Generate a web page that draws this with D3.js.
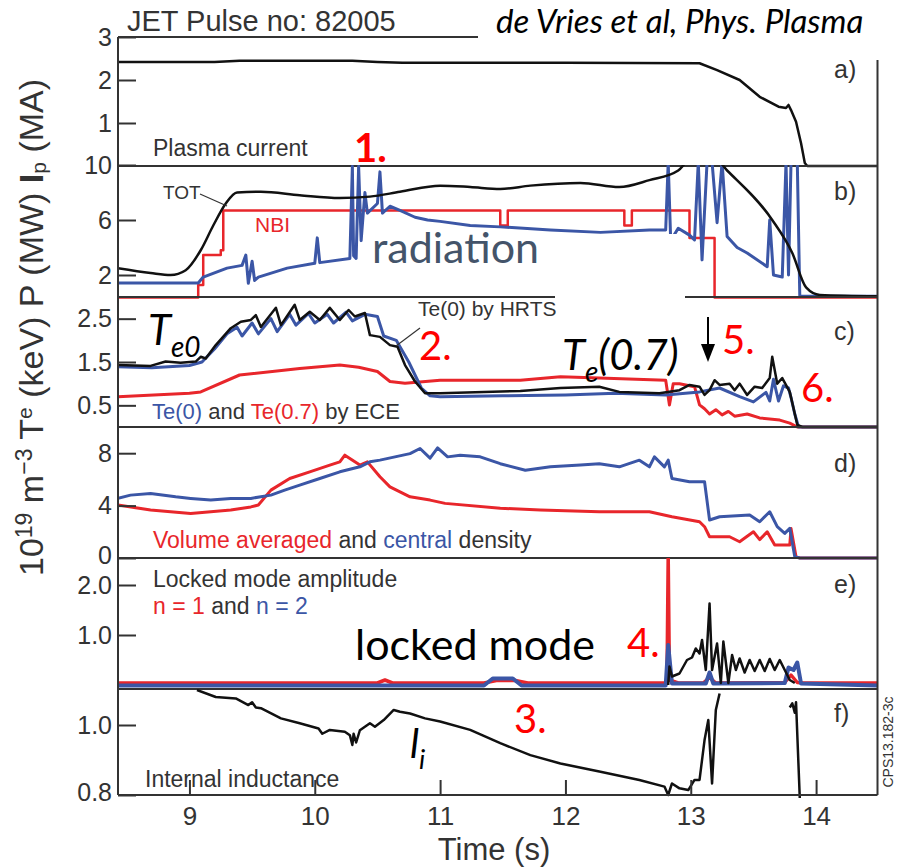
<!DOCTYPE html>
<html>
<head>
<meta charset="utf-8">
<script src="https://cdn.jsdelivr.net/npm/d3@7"></script>
<style>
body { margin: 0; background: #fff; }
svg { display: block; }
.tick text { font-family: "Liberation Sans", Arial, sans-serif; font-size: 25px; fill: #333; }
.tick line { stroke: #333; stroke-width: 2; }
.lbl { font-family: "Liberation Sans", Arial, sans-serif; fill: #333; }
.note { font-family: Lato, "Open Sans", sans-serif; }
</style>
</head>
<body>
<div id="chart"></div>
<script>
// ---- data: [time (s), value] pairs ----
var timeTicks = [9, 10, 11, 12, 13, 14];

// a) plasma current (MA)
var ipCurrent = [[8.43,2.42],[9.2,2.42],[9.4,2.45],[10.3,2.45],[10.5,2.42],[10.7,2.40],[12.0,2.40],[13.07,2.39],[13.21,2.23],[13.39,2.0],[13.55,1.61],[13.7,1.38],[13.76,1.35],[13.78,1.42],[13.8,1.30],[13.84,1.03],[13.88,0.53],[13.91,0.07],[13.93,0],[14.49,0]];

// b) powers (MW)
var totPower = [[8.43,2.5],[8.69,2.15],[8.85,2.0],[8.97,2.35],[9.09,3.8],[9.19,5.6],[9.29,7.2],[9.38,8.0],[9.57,8.05],[9.88,7.8],[10.2,7.6],[10.44,7.7],[10.68,8.05],[11.0,8.5],[11.24,8.4],[11.48,8.25],[11.72,8.5],[12.12,8.7],[12.43,8.4],[12.67,8.9],[12.9,9.6],[13.0,10.4],[13.2,10.4],[13.29,9.6],[13.65,6.0],[13.81,3.6],[13.92,1.1],[14.03,0.55],[14.49,0.45]];
var nbiPower = [[8.43,0.37],[9.07,0.37],[9.07,1.27],[9.11,1.27],[9.11,3.45],[9.25,3.45],[9.25,3.8],[9.27,3.8],[9.27,6.7],[11.48,6.7],[11.48,5.6],[11.54,5.6],[11.54,6.7],[12.47,6.7],[12.47,5.6],[12.53,5.6],[12.53,6.7],[12.99,6.7],[12.99,4.7],[13.19,4.7],[13.19,0.37],[14.49,0.37]];
var radPower = [[8.43,1.42],[9.07,1.42],[9.11,1.85],[9.3,2.5],[9.42,2.7],[9.45,3.45],[9.47,1.4],[9.5,3.0],[9.52,1.6],[9.55,1.85],[9.78,2.5],[10.0,2.85],[10.02,4.7],[10.04,2.9],[10.28,3.2],[10.3,9.9],[10.31,3.4],[10.33,3.2],[10.35,9.9],[10.37,4.5],[10.4,8.0],[10.42,6.5],[10.5,7.2],[10.52,9.5],[10.54,6.5],[10.6,7.0],[10.68,6.7],[10.8,6.2],[10.9,6.0],[11.0,5.9],[11.24,5.6],[11.48,5.5],[11.88,5.27],[12.28,5.1],[12.67,5.27],[12.8,5.27],[12.82,10.2],[12.84,4.5],[12.9,5.4],[12.99,4.9],[13.03,4.55],[13.06,10.2],[13.09,3.1],[13.13,10.2],[13.17,10.2],[13.21,5.8],[13.25,10.2],[13.29,4.8],[13.37,4.0],[13.45,3.6],[13.61,2.6],[13.63,6.0],[13.66,2.0],[13.73,1.85],[13.76,10.2],[13.78,2.0],[13.8,10.2],[13.85,10.2],[13.87,0.45],[14.49,0.45]];

// c) electron temperature (keV)
var te0Hrts = [[8.43,1.43],[8.69,1.41],[8.81,1.51],[8.93,1.48],[9.05,1.51],[9.09,1.62],[9.13,1.58],[9.21,1.89],[9.33,2.28],[9.41,2.43],[9.49,2.47],[9.53,2.58],[9.57,2.31],[9.69,2.75],[9.73,2.35],[9.84,2.82],[9.88,2.47],[9.96,2.66],[10.04,2.47],[10.12,2.75],[10.2,2.47],[10.27,2.7],[10.32,2.55],[10.4,2.63],[10.44,2.12],[10.52,2.08],[10.6,1.89],[10.66,1.85],[10.72,1.43],[10.8,1.05],[10.88,0.78],[11.0,0.78],[11.64,0.83],[11.96,0.9],[12.27,0.93],[12.43,0.81],[12.75,0.78],[12.91,0.85],[12.99,0.97],[13.07,0.93],[13.11,0.74],[13.15,0.85],[13.19,1.08],[13.23,0.97],[13.31,1.0],[13.35,0.85],[13.39,1.0],[13.45,0.74],[13.51,0.93],[13.57,0.9],[13.63,1.13],[13.65,1.62],[13.69,1.0],[13.73,1.13],[13.79,0.81],[13.85,0.05],[13.89,0],[14.49,0]];
var te0Ece = [[8.43,1.39],[8.7,1.37],[9.0,1.42],[9.1,1.5],[9.2,1.8],[9.3,2.15],[9.38,2.3],[9.42,2.1],[9.5,2.4],[9.55,2.15],[9.65,2.5],[9.7,2.2],[9.8,2.6],[9.85,2.35],[9.95,2.62],[10.0,2.4],[10.1,2.6],[10.15,2.4],[10.25,2.65],[10.3,2.45],[10.4,2.6],[10.5,2.55],[10.55,2.1],[10.65,2.0],[10.75,1.5],[10.85,0.9],[10.92,0.72],[11.0,0.7],[11.5,0.72],[12.0,0.74],[12.4,0.78],[12.8,0.74],[13.07,0.81],[13.23,0.9],[13.39,0.7],[13.5,0.58],[13.6,0.8],[13.63,0.6],[13.66,1.1],[13.7,0.6],[13.74,0.95],[13.78,0.9],[13.8,0.68],[13.83,0.3],[13.86,0],[14.49,0]];
var te07Ece = [[8.43,0.7],[9.0,0.78],[9.09,0.81],[9.4,1.2],[9.88,1.35],[10.2,1.43],[10.35,1.38],[10.5,1.28],[10.6,1.05],[10.72,1.01],[11.0,1.08],[11.64,1.08],[11.96,1.16],[12.27,1.13],[12.8,1.08],[12.83,0.51],[12.86,1.0],[12.91,1.0],[13.03,0.93],[13.07,0.51],[13.11,0.42],[13.15,0.3],[13.2,0.4],[13.25,0.28],[13.3,0.36],[13.35,0.25],[13.45,0.3],[13.55,0.21],[13.71,0.16],[13.79,0.09],[13.85,0],[14.49,0]];

// d) density (10^19 m^-3)
var neCentral = [[8.43,4.55],[8.53,4.8],[8.69,4.93],[8.89,4.67],[9.01,4.55],[9.17,4.42],[9.33,4.55],[9.49,4.55],[9.65,4.8],[9.76,5.18],[9.88,5.56],[10.04,6.07],[10.2,6.58],[10.36,6.96],[10.44,7.34],[10.52,7.47],[10.64,7.72],[10.76,7.97],[10.84,8.36],[10.92,7.62],[10.98,8.4],[11.06,7.72],[11.16,7.85],[11.32,7.72],[11.48,7.2],[11.68,6.7],[11.88,6.96],[12.12,7.09],[12.27,7.2],[12.43,6.96],[12.59,7.47],[12.67,6.96],[12.71,7.72],[12.79,6.96],[12.82,7.47],[12.85,6.07],[12.99,5.82],[13.11,5.82],[13.15,2.9],[13.23,3.15],[13.47,3.28],[13.55,2.77],[13.63,3.53],[13.69,2.39],[13.75,1.88],[13.79,2.26],[13.83,0.1],[13.87,0],[14.49,0]];
var neVolume = [[8.43,4.04],[8.69,3.66],[9.01,3.4],[9.33,3.66],[9.49,3.9],[9.55,4.04],[9.65,5.18],[9.8,6.07],[9.96,6.58],[10.12,7.09],[10.2,7.34],[10.24,7.85],[10.36,7.09],[10.42,7.34],[10.52,6.2],[10.6,5.43],[10.76,4.67],[10.92,4.42],[11.04,4.17],[11.48,3.8],[11.8,3.66],[12.27,3.53],[12.67,3.53],[12.85,3.15],[13.07,2.77],[13.11,2.39],[13.15,1.62],[13.31,1.62],[13.39,1.24],[13.5,2.0],[13.55,1.4],[13.61,2.0],[13.67,0.99],[13.79,0.99],[13.8,2.26],[13.84,0.1],[13.87,0],[14.49,0]];

// e) locked mode amplitude
var lockN1 = [[8.43,0.04],[10.5,0.04],[10.56,0.1],[10.62,0.04],[11.35,0.04],[11.45,0.09],[11.6,0.09],[11.7,0.04],[12.81,0.04],[12.82,2.6],[12.83,0.1],[12.9,0.04],[13.1,0.04],[13.15,0.15],[13.2,0.04],[13.75,0.05],[13.8,0.2],[13.85,0.05],[13.9,0.04],[14.49,0.04]];
var lockN2 = [[8.43,-0.01],[11.35,-0.01],[11.42,0.13],[11.58,0.13],[11.65,-0.01],[12.8,-0.01],[12.82,0.8],[12.85,0.03],[13.12,0.03],[13.15,0.25],[13.18,0.03],[13.75,0.04],[13.78,0.35],[13.82,0.3],[13.85,0.45],[13.88,0.03],[14.49,-0.01]];
var lockOther = [[12.82,0.0],[12.83,0.37],[12.85,0.17],[12.91,0.23],[12.97,0.5],[13.01,0.55],[13.04,0.73],[13.07,0.63],[13.09,0.9],[13.12,0.3],[13.15,1.63],[13.17,0.3],[13.21,0.83],[13.24,0.04],[13.26,0.87],[13.3,0.04],[13.33,0.6],[13.36,0.3],[13.39,0.53],[13.43,0.25],[13.47,0.5],[13.51,0.28],[13.55,0.5],[13.59,0.28],[13.63,0.52],[13.67,0.3],[13.71,0.5],[13.75,0.3],[13.79,0.1],[13.83,0.04]];

// f) internal inductance (null = gap)
var liInductance = [[9.06,1.10],[9.21,1.08],[9.37,1.076],[9.47,1.057],[9.5,1.065],[9.53,1.05],[9.57,1.048],[9.73,1.019],[9.88,1.005],[10.03,0.99],[10.06,0.975],[10.12,0.986],[10.24,0.981],[10.28,0.971],[10.3,0.943],[10.31,0.975],[10.33,0.95],[10.36,0.985],[10.44,1.005],[10.48,0.995],[10.55,1.014],[10.63,1.043],[10.68,1.038],[10.76,1.033],[10.88,1.019],[11.0,1.01],[11.24,0.986],[11.48,0.948],[11.72,0.914],[11.96,0.89],[12.27,0.867],[12.59,0.843],[12.79,0.824],[12.82,0.8],[12.85,0.833],[12.91,0.819],[12.98,0.814],[13.03,0.843],[13.07,0.843],[13.11,0.957],[13.14,1.014],[13.17,0.833],[13.2,1.043],[13.23,1.09],[13.23,null],[13.79,1.05],[13.81,1.062],[13.83,1.035],[13.84,1.065],[13.87,0.79]];

var red = "#e8262b", blue = "#3b56a6", black = "#111";

var width = 897, height = 867;
var svg = d3.select("#chart").append("svg")
	.attr("width", width)
	.attr("height", height);

var x = d3.scaleLinear().domain([8.43, 14.49]).range([118, 877.5]);

//Panels, top to bottom
var panels = [
	{ key: "a", top: 37, bottom: 166, domain: [0, 3], range: [166, 37], ticks: [1, 2, 3], fmt: "d",
	  series: [{ data: ipCurrent, color: black, w: 2.5 }] },
	{ key: "b", top: 165, bottom: 297, domain: [0, 10], range: [302.5, 165], ticks: [2, 6, 10], fmt: "d",
	  series: [{ data: nbiPower, color: red, w: 2.5 }, { data: radPower, color: blue, w: 3 }, { data: totPower, color: black, w: 2.5, smooth: true }] },
	{ key: "c", top: 297, bottom: 427, domain: [0, 3], range: [427, 297], ticks: [0.5, 1.5, 2.5], fmt: ".1f",
	  series: [{ data: te07Ece, color: red, w: 3 }, { data: te0Ece, color: blue, w: 3 }, { data: te0Hrts, color: black, w: 2.5 }] },
	{ key: "d", top: 427, bottom: 558, domain: [0, 10], range: [558, 427], ticks: [0, 4, 8], fmt: "d",
	  series: [{ data: neVolume, color: red, w: 3 }, { data: neCentral, color: blue, w: 3 }] },
	{ key: "e", top: 558, bottom: 689, domain: [0, 2], range: [685, 585], ticks: [1, 2], fmt: ".1f",
	  series: [{ data: lockN1, color: red, w: 3.5 }, { data: lockN2, color: blue, w: 4 }, { data: lockOther, color: black, w: 2.5 }] },
	{ key: "f", top: 689, bottom: 795, domain: [0.8, 1.0], range: [795, 725], ticks: [0.8, 1.0], fmt: ".1f",
	  series: [{ data: liInductance, color: black, w: 2.5 }] }
];
var panelLabelY = { a: 78, b: 200, c: 340, d: 472, e: 593, f: 722 };

var defs = svg.append("defs");

panels.forEach(function(p) {
	var y = d3.scaleLinear().domain(p.domain).range(p.range);

	defs.append("clipPath").attr("id", "clip-" + p.key)
		.append("rect")
		.attr("x", x.range()[0]).attr("y", p.top)
		.attr("width", x.range()[1] - x.range()[0]).attr("height", p.bottom - p.top + 3);

	var g = svg.append("g").attr("clip-path", "url(#clip-" + p.key + ")");
	p.series.forEach(function(s) {
		var line = d3.line()
			.defined(function(d) { return d[1] != null; })
			.x(function(d) { return x(d[0]); })
			.y(function(d) { return y(d[1]); })
			.curve(s.smooth ? d3.curveMonotoneX : d3.curveLinear);
		g.append("path")
			.datum(s.data)
			.attr("d", line)
			.attr("fill", "none")
			.attr("stroke", s.color)
			.attr("stroke-width", s.w)
			.attr("stroke-linejoin", "round");
	});

	//inward ticks on the left
	var ax = svg.append("g")
		.attr("transform", "translate(" + x.range()[0] + ",0)")
		.call(d3.axisLeft(y).tickValues(p.ticks).tickSize(-18).tickPadding(6).tickFormat(d3.format(p.fmt)));
	ax.select(".domain").remove();
	//a label on the bottom edge is lifted a little so it does not touch the next panel's top label
	ax.selectAll(".tick text")
		.attr("dy", function(d) { return y(d) >= p.bottom - 1 ? "0.22em" : "0.32em"; });

	//divider under the panel
	svg.append("line")
		.attr("x1", x.range()[0]).attr("x2", x.range()[1])
		.attr("y1", p.bottom).attr("y2", p.bottom)
		.attr("stroke", "#333").attr("stroke-width", 2);

	svg.append("text")
		.attr("class", "lbl")
		.attr("x", 834)
		.attr("y", panelLabelY[p.key])
		.style("font-size", "25px")
		.text(p.key + ")");
});

//outer frame
svg.append("line").attr("x1", 118).attr("x2", 877.5).attr("y1", 37).attr("y2", 37).attr("stroke", "#333").attr("stroke-width", 2);
svg.append("line").attr("x1", 118).attr("x2", 118).attr("y1", 37).attr("y2", 795).attr("stroke", "#333").attr("stroke-width", 2);
svg.append("line").attr("x1", 877.5).attr("x2", 877.5).attr("y1", 37).attr("y2", 795).attr("stroke", "#333").attr("stroke-width", 2);

//time axis
var xAxis = svg.append("g")
	.attr("transform", "translate(0,795)")
	.call(d3.axisBottom(x).tickValues(timeTicks).tickSize(-15).tickPadding(12).tickFormat(d3.format("d")));
xAxis.select(".domain").remove();
xAxis.selectAll("text").style("font-size", "26px");

svg.append("text").attr("class", "lbl")
	.attr("x", 494).attr("y", 860)
	.attr("text-anchor", "middle")
	.style("font-size", "31px")
	.text("Time (s)");

//y title, rotated
var yTitle = svg.append("text").attr("class", "lbl")
	.attr("transform", "translate(43,576) rotate(-90)")
	.style("font-size", "34px");
yTitle.append("tspan").text("10");
yTitle.append("tspan").attr("dy", -11).style("font-size", "23px").text("19");
yTitle.append("tspan").attr("dy", 11).text(" m");
yTitle.append("tspan").attr("dy", -11).style("font-size", "23px").text("\u22123");
yTitle.append("tspan").attr("dy", 11).text(" T");
yTitle.append("tspan").attr("dy", -11).style("font-size", "21px").text("e");
yTitle.append("tspan").attr("dy", 11).text(" (keV) P (MW) ");
yTitle.append("tspan").style("font-weight", "bold").text("I");
yTitle.append("tspan").attr("dy", 3).style("font-size", "21px").text("p");
yTitle.append("tspan").attr("dy", -3).text(" (MA)");

//panel texts
svg.append("text").attr("class", "lbl").attr("x", 127).attr("y", 31).style("font-size", "29px").text("JET Pulse no: 82005");
svg.append("text").attr("class", "lbl").attr("x", 153).attr("y", 156).style("font-size", "23px").text("Plasma current");
svg.append("text").attr("class", "lbl").attr("x", 163).attr("y", 199).style("font-size", "19px").text("TOT");
svg.append("line").attr("x1", 200).attr("y1", 194).attr("x2", 227).attr("y2", 206).attr("stroke", "#333").attr("stroke-width", 1.2);
svg.append("text").attr("class", "lbl").attr("x", 255).attr("y", 232).style("font-size", "21px").style("fill", red).text("NBI");

svg.append("text").attr("class", "lbl").attr("x", 418).attr("y", 316).style("font-size", "21px").text("Te(0) by HRTS");
svg.append("line").attr("x1", 420).attr("y1", 328).attr("x2", 396).attr("y2", 346).attr("stroke", "#333").attr("stroke-width", 1.2);

var ece = svg.append("text").attr("class", "lbl").attr("x", 152).attr("y", 419).style("font-size", "22px");
ece.append("tspan").style("fill", blue).text("Te(0)");
ece.append("tspan").text(" and ");
ece.append("tspan").style("fill", red).text("Te(0.7)");
ece.append("tspan").text(" by ECE");

var dens = svg.append("text").attr("class", "lbl").attr("x", 153).attr("y", 548).style("font-size", "23px");
dens.append("tspan").style("fill", red).text("Volume averaged");
dens.append("tspan").text(" and ");
dens.append("tspan").style("fill", blue).text("central");
dens.append("tspan").text(" density");

svg.append("text").attr("class", "lbl").attr("x", 153).attr("y", 587).style("font-size", "23px").text("Locked mode amplitude");
var nn = svg.append("text").attr("class", "lbl").attr("x", 153).attr("y", 614).style("font-size", "23px");
nn.append("tspan").style("fill", red).text("n = 1");
nn.append("tspan").text(" and ");
nn.append("tspan").style("fill", blue).text("n = 2");

svg.append("text").attr("class", "lbl").attr("x", 145).attr("y", 787).style("font-size", "23px").text("Internal inductance");

svg.append("text").attr("class", "lbl")
	.attr("transform", "translate(893,742) rotate(-90)")
	.attr("text-anchor", "middle")
	.style("font-size", "14px")
	.text("CPS13.182-3c");

//overlay boxes from the slide
svg.append("rect").attr("x", 478).attr("y", 0).attr("width", 419).attr("height", 60).attr("fill", "#fff");
svg.append("text").attr("class", "note").attr("x", 496).attr("y", 33)
	.style("font-size", "33px").style("font-style", "italic").text("de Vries et al, Phys. Plasma");

svg.append("rect").attr("x", 368).attr("y", 234).attr("width", 186).attr("height", 56).attr("fill", "#fff");
svg.append("rect").attr("x", 555).attr("y", 234).attr("width", 130).attr("height", 67).attr("fill", "#fff");
svg.append("text").attr("class", "note").attr("x", 372).attr("y", 263)
	.style("font-size", "43px").style("fill", "#44546a").text("radiation");

//red numbered notes
var notes = [
	{ t: "1.", x: 354, y: 162, bold: true },
	{ t: "2.", x: 419, y: 360 },
	{ t: "3.", x: 514, y: 733 },
	{ t: "4.", x: 627, y: 657 },
	{ t: "5.", x: 722, y: 354 },
	{ t: "6.", x: 801, y: 402 }
];
notes.forEach(function(n) {
	svg.append("text").attr("class", "note")
		.attr("x", n.x).attr("y", n.y)
		.style("font-size", "40px")
		.style("font-weight", n.bold ? "bold" : "normal")
		.style("fill", "#ff0000")
		.text(n.t);
});

var te0 = svg.append("text").attr("class", "note").attr("x", 148).attr("y", 345)
	.style("font-size", "42px").style("font-style", "italic").style("fill", "#000");
te0.append("tspan").text("T");
te0.append("tspan").attr("dy", 12).style("font-size", "28px").text("e0");

var te07 = svg.append("text").attr("class", "note").attr("x", 562).attr("y", 370)
	.style("font-size", "42px").style("font-style", "italic").style("fill", "#000");
te07.append("tspan").text("T");
te07.append("tspan").attr("dy", 12).style("font-size", "28px").text("e");
te07.append("tspan").attr("dy", -12).text("(0.7)");

svg.append("text").attr("class", "note").attr("x", 355).attr("y", 660)
	.style("font-size", "43px").style("fill", "#000").text("locked mode");

var li = svg.append("text").attr("class", "note").attr("x", 410).attr("y", 758)
	.style("font-size", "40px").style("font-style", "italic").style("fill", "#000");
li.append("tspan").text("l");
li.append("tspan").attr("dy", 11).style("font-size", "27px").text("i");

//arrow near 5.
svg.append("line").attr("x1", 708).attr("y1", 317).attr("x2", 708).attr("y2", 350).attr("stroke", "#000").attr("stroke-width", 2);
svg.append("path").attr("d", "M701,344 L715,344 L708,362 Z").attr("fill", "#000");
</script>
</body>
</html>
